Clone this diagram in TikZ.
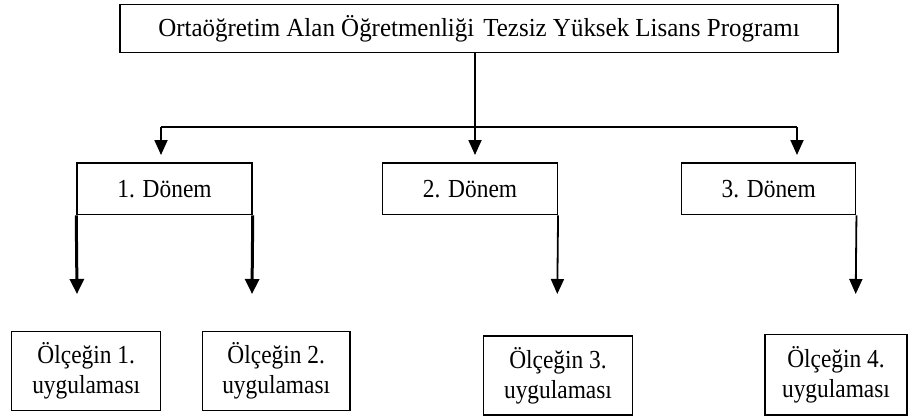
\documentclass[tikz,border=0pt]{standalone}
\usepackage{fontspec}
\setmainfont{Liberation Serif}
\newfontfamily\narrowserif[FakeStretch=0.9]{Liberation Serif}
\newfontfamily\topserif[FakeStretch=0.96]{Liberation Serif}
\usetikzlibrary{arrows.meta}
\begin{document}
\begin{tikzpicture}[x=1pt,y=-1pt,
  box/.style={draw,line width=1.5pt,inner sep=0pt,align=center,font=\narrowserif\fontsize{26}{30}\selectfont},
  conn/.style={line width=1.8pt},
  arr/.style={line width=1.8pt,-{Triangle[length=15pt,width=13pt]}},
  thickarr/.style={line width=3pt,-{Triangle[length=15pt,width=14pt]}}]
\useasboundingbox (0,0) rectangle (908,418);
\node[box,font=\topserif\fontsize{26}{30}\selectfont,minimum width=718pt,minimum height=47.6pt] (top) at (479,28.5) {Ortaöğretim Alan Öğretmenliği\hspace{9pt}Tezsiz Yüksek Lisans Programı};
\node[box,minimum width=175pt,minimum height=51.7pt] (d1) at (164.5,188.8) {1. Dönem};
\node[box,minimum width=174.6pt,minimum height=51.7pt] (d2) at (470,188.8) {2. Dönem};
\node[box,minimum width=174pt,minimum height=51.7pt] (d3) at (768.7,188.8) {3. Dönem};
\node[box,minimum width=149pt,minimum height=79pt] (o1) at (86.2,371.2) {Ölçeğin 1.\\uygulaması};
\node[box,minimum width=147.7pt,minimum height=79pt] (o2) at (276.2,371.2) {Ölçeğin 2.\\uygulaması};
\node[box,minimum width=149.4pt,minimum height=79.3pt] (o3) at (558,375.4) {Ölçeğin 3.\\uygulaması};
\node[box,minimum width=142pt,minimum height=80.7pt] (o4) at (836,374.7) {Ölçeğin 4.\\uygulaması};
\coordinate (hub) at (475,127);
\coordinate (hl) at (161,127);
\coordinate (hr) at (797,127);
\draw[conn] (top.south -| hub) -- (hub);
\draw[conn] (hl) -- (hr);
\draw[arr] (hl) -- (161,155);
\draw[arr] (hub) -- (475,155);
\draw[arr] (hr) -- (797,155);
\coordinate (t1) at (77,294);
\coordinate (t2) at (252,294);
\coordinate (t3) at (557.3,294);
\coordinate (t4) at (855.7,294);
\draw[thickarr] (d1.south west) -- (t1);
\draw[thickarr] (d1.south east) -- (t2);
\draw[arr] (d2.south east) -- (t3);
\draw[arr] (d3.south east) -- (t4);
\end{tikzpicture}
\end{document}
